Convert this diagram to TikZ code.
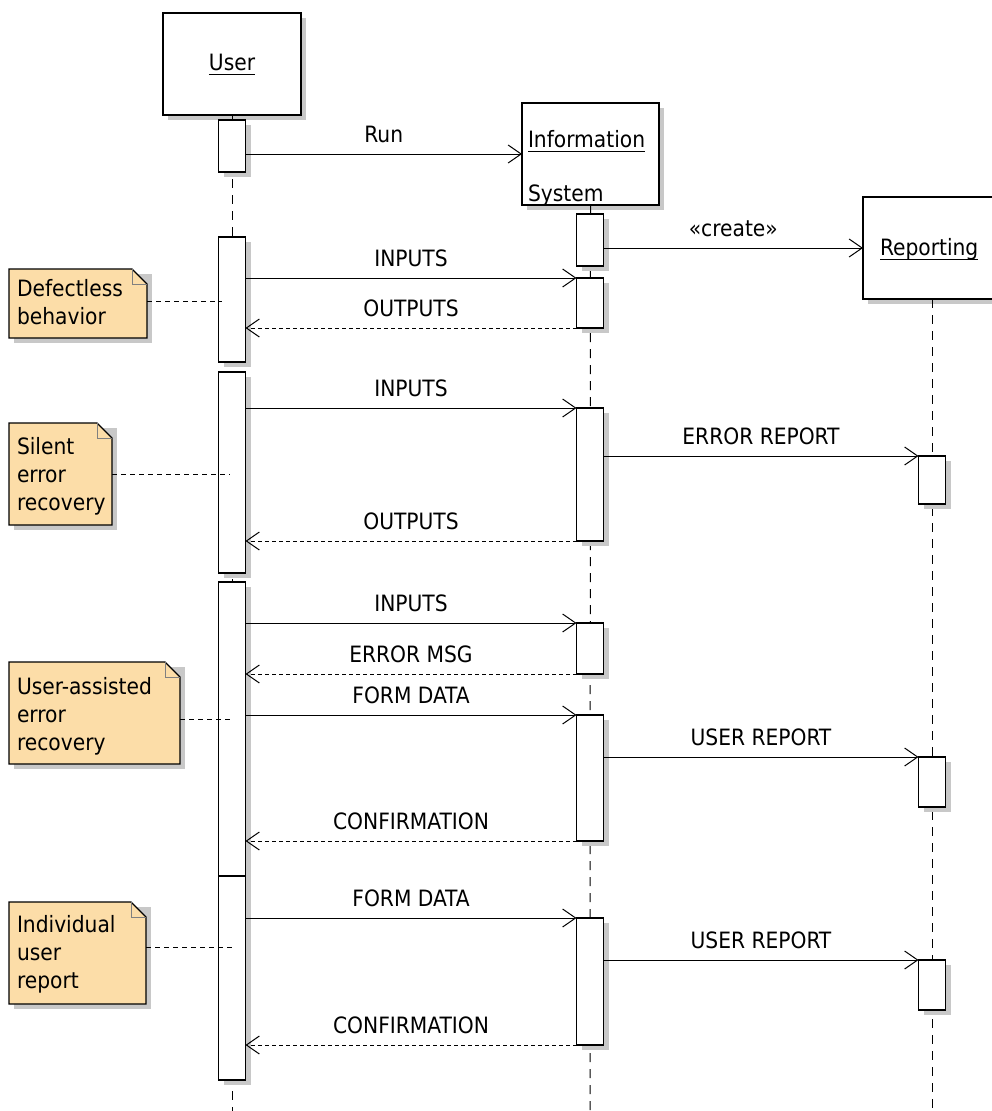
\documentclass[tikz,border=0pt]{standalone}
\usepackage{fontspec}
\setmainfont{DejaVu Sans Condensed}
\usetikzlibrary{arrows.meta,shadows}
\definecolor{shadowgray}{RGB}{200,200,200}
\definecolor{notefill}{RGB}{252,221,168}
\newcommand\umlnote[4]{%
  \fill[shadowgray] (#1+5,#2+5) rectangle (#3+5,#4+5);
  \draw[notestyle] (#1,#2) -- (#3-15,#2) -- (#3,#2+15) -- (#3,#4) -- (#1,#4) -- cycle;
  \draw[line width=0.6pt,gray] (#3-15,#2) -- (#3-15,#2+15) -- (#3,#2+15);
}
\begin{document}
\begin{tikzpicture}[x=1pt,y=-1pt,
  every node/.style={inner sep=0pt,outer sep=0pt,font=\fontsize{22.5}{28}\selectfont},
  obj/.style={draw,line width=1.2pt,fill=white,minimum width=138pt,minimum height=102pt,
    drop shadow={shadow xshift=5pt,shadow yshift=-5pt,fill=shadowgray,opacity=1}},
  act/.style={draw,line width=1.2pt,fill=white,minimum width=27pt,
    drop shadow={shadow xshift=5pt,shadow yshift=-5pt,fill=shadowgray,opacity=1}},
  life/.style={line width=1pt,dash pattern=on 9pt off 7pt},
  call/.style={line width=1pt,-{Straight Barb[length=13pt,width=18pt]}},
  ret/.style={call,dash pattern=on 4pt off 3pt},
  lbl/.style={midway,anchor=base,yshift=12pt},
  notestyle/.style={draw,line width=1.2pt,fill=notefill},
  notelink/.style={line width=1pt,dash pattern=on 5pt off 4pt},
  ul/.style={line width=1pt},
  notetext/.style={anchor=base west,align=left},
]
\useasboundingbox (0,0) rectangle (992,1111);
\fill[white] (0,0) rectangle (992,1111);
\clip (0,0) rectangle (992,1111);

% objects
\node[obj] (user) at (232,64) {};
\node[obj,minimum width=137pt] (info) at (590.5,154) {};
\node[obj] (rep) at (932,248) {};
\node[anchor=base] (usertxt) at (232,70) {User};
\node[anchor=base west] (infotxtA) at (528,147) {Information};
\node[anchor=base west] (infotxtB) at (528,201) {System};
\node[anchor=base west] (reptxt) at (880,255) {Reporting};
\draw[ul] ([yshift=-4pt]usertxt.base west) -- ([yshift=-4pt]usertxt.base east);
\draw[ul] ([yshift=-4pt]infotxtA.base west) -- ([yshift=-4pt]infotxtA.base east);
\draw[ul] ([yshift=-4pt]reptxt.base west) -- ([yshift=-4pt]reptxt.base east);

% lifelines
\coordinate (uend) at (232,1111);
\coordinate (iend) at (590,1111);
\coordinate (rend) at (932,1111);
\draw[life] (user.south) -- (uend);
\draw[life] (info.south) -- (iend);
\draw[life] (rep.south) -- (rend);

% activations: user
\node[act,minimum height=52pt] (u1) at (232,146) {};
\node[act,minimum height=125pt] (u2) at (232,299.5) {};
\node[act,minimum height=201pt] (u3) at (232,472.5) {};
\node[act,minimum height=294pt] (u4) at (232,729) {};
\node[act,minimum height=204pt] (u5) at (232,978) {};
% activations: information system
\node[act,minimum height=52pt] (i1) at (590,240) {};
\node[act,minimum height=50pt] (i2) at (590,303) {};
\node[act,minimum height=133pt] (i3) at (590,474.5) {};
\node[act,minimum height=51pt] (i4) at (590,648.5) {};
\node[act,minimum height=126pt] (i5) at (590,778) {};
\node[act,minimum height=127pt] (i6) at (590,981.5) {};
% activations: reporting
\node[act,minimum height=48pt] (r1) at (932,480) {};
\node[act,minimum height=50pt] (r2) at (932,782) {};
\node[act,minimum height=50pt] (r3) at (932,985) {};

% messages
\draw[call] (u1.east |- info.west) -- (info.west) node[lbl] {Run};
\draw[call] (i1.east |- rep.west) -- (rep.west) node[lbl] {«create»};
\draw[call] (u2.east |- i2.north) -- (i2.north west) node[lbl] {INPUTS};
\draw[ret] (i2.south west) -- (u2.east |- i2.south) node[lbl] {OUTPUTS};
\draw[call] (u3.east |- i3.north) -- (i3.north west) node[lbl] {INPUTS};
\draw[call] (i3.east |- r1.north) -- (r1.north west) node[lbl] {ERROR REPORT};
\draw[ret] (i3.south west) -- (u3.east |- i3.south) node[lbl] {OUTPUTS};
\draw[call] (u4.east |- i4.north) -- (i4.north west) node[lbl] {INPUTS};
\draw[ret] (i4.south west) -- (u4.east |- i4.south) node[lbl] {ERROR MSG};
\draw[call] (u4.east |- i5.north) -- (i5.north west) node[lbl] {FORM DATA};
\draw[call] (i5.east |- r2.north) -- (r2.north west) node[lbl] {USER REPORT};
\draw[ret] (i5.south west) -- (u4.east |- i5.south) node[lbl] {CONFIRMATION};
\draw[call] (u5.east |- i6.north) -- (i6.north west) node[lbl] {FORM DATA};
\draw[call] (i6.east |- r3.north) -- (r3.north west) node[lbl] {USER REPORT};
\draw[ret] (i6.south west) -- (u5.east |- i6.south) node[lbl] {CONFIRMATION};

% notes (base anchor of a multi-line node is its last line)
\umlnote{9}{269}{147}{338}
\node[notetext] (n1) at (17,324) {Defectless\\behavior};
\coordinate (n1c) at (147,301);
\coordinate (n1e) at (222,301);
\draw[notelink] (n1c) -- (n1e);

\umlnote{9}{423}{112}{525}
\node[notetext] (n2) at (17,510) {Silent\\error\\recovery};
\coordinate (n2c) at (112,474);
\coordinate (n2e) at (230,474);
\draw[notelink] (n2c) -- (n2e);

\umlnote{9}{662}{180}{764}
\node[notetext] (n3) at (17,750) {User-assisted\\error\\recovery};
\coordinate (n3c) at (180,719);
\coordinate (n3e) at (232,719);
\draw[notelink] (n3c) -- (n3e);

\umlnote{9}{902}{146}{1004}
\node[notetext] (n4) at (17,988) {Individual\\user\\report};
\coordinate (n4c) at (146,947);
\coordinate (n4e) at (232,947);
\draw[notelink] (n4c) -- (n4e);
\end{tikzpicture}
\end{document}
